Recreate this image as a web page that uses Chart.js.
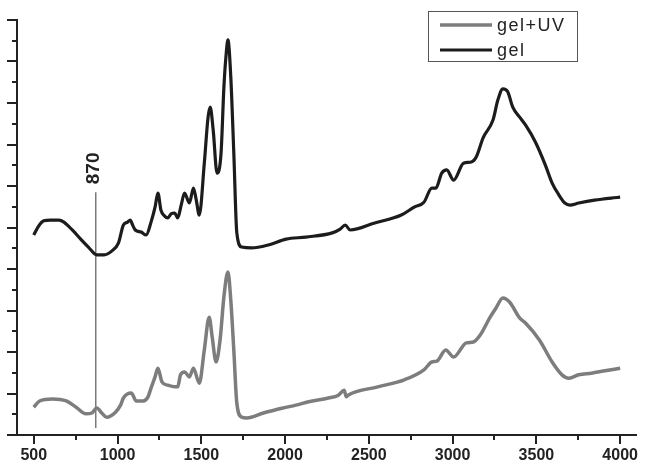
<!DOCTYPE html>
<html>
<head>
<meta charset="utf-8">
<script src="https://cdn.jsdelivr.net/npm/chart.js@4/dist/chart.umd.min.js"></script>
<style>
  html, body { margin: 0; padding: 0; background: #fff; }
  #wrap { width: 649px; height: 461px; }
</style>
</head>
<body>
<div id="wrap"><canvas id="chart"></canvas></div>
<script>
// IR spectra, gel vs gel+UV (arbitrary offset units)

const gelX = [500, 530, 560, 600, 650, 680, 730, 780, 830, 876, 920, 965, 1006, 1035, 1060, 1076, 1090, 1106, 1141, 1171,
  1200, 1224, 1241, 1259, 1280, 1300, 1320, 1341, 1359, 1380, 1400, 1429, 1453, 1470, 1488, 1518, 1540, 1553, 1571, 1594,
  1618, 1635, 1648, 1659, 1676, 1694, 1712, 1741, 1800, 1900, 2006, 2124, 2282, 2329, 2359, 2388, 2535, 2694, 2771, 2829,
  2876, 2900, 2935, 2965, 3006, 3065, 3112, 3141, 3182, 3241, 3270, 3300, 3329, 3359, 3400, 3435, 3494, 3553, 3594, 3635,
  3670, 3700, 3753, 3847, 3947, 4000];
const gelY = [4.82, 5.04, 5.16, 5.18, 5.18, 5.13, 4.94, 4.72, 4.51, 4.34, 4.34, 4.43, 4.63, 5.06, 5.13, 5.18, 5.06, 4.94, 4.89, 4.82,
  5.13, 5.49, 5.83, 5.42, 5.28, 5.23, 5.33, 5.35, 5.23, 5.54, 5.83, 5.59, 5.95, 5.66, 5.30, 6.55, 7.64, 7.90, 7.35, 6.31,
  6.80, 8.39, 9.16, 9.52, 8.63, 6.80, 4.87, 4.53, 4.51, 4.58, 4.72, 4.77, 4.87, 4.96, 5.06, 4.94, 5.11, 5.30, 5.49, 5.61,
  5.95, 5.95, 6.31, 6.39, 6.14, 6.55, 6.58, 6.70, 7.16, 7.59, 8.07, 8.34, 8.27, 7.90, 7.66, 7.47, 7.06, 6.51, 6.07, 5.78,
  5.59, 5.54, 5.59, 5.66, 5.71, 5.73];

const uvX = [500, 535, 612, 694, 753, 812, 847, 876, 906, 935, 988, 1018, 1035, 1082, 1112, 1153, 1182, 1200, 1224, 1241,
  1265, 1300, 1341, 1359, 1376, 1400, 1429, 1453, 1488, 1518, 1547, 1565, 1588, 1612, 1635, 1659, 1676, 1694, 1712, 1741,
  1771, 1871, 1988, 2065, 2141, 2259, 2318, 2353, 2365, 2376, 2553, 2712, 2829, 2876, 2906, 2959, 3006, 3082, 3124, 3165,
  3224, 3259, 3300, 3341, 3400, 3435, 3518, 3594, 3653, 3694, 3753, 3829, 3900, 4000];
const uvY = [0.67, 0.82, 0.87, 0.82, 0.67, 0.51, 0.53, 0.65, 0.53, 0.43, 0.55, 0.72, 0.89, 1.01, 0.82, 0.82, 0.92, 1.13, 1.40, 1.61,
  1.28, 1.20, 1.16, 1.16, 1.45, 1.52, 1.40, 1.61, 1.25, 2.05, 2.84, 2.36, 1.76, 2.29, 3.33, 3.93, 3.25, 2.05, 0.77, 0.43,
  0.41, 0.53, 0.65, 0.72, 0.80, 0.89, 0.96, 1.08, 0.92, 0.96, 1.16, 1.33, 1.57, 1.76, 1.78, 2.05, 1.88, 2.22, 2.24, 2.41,
  2.84, 3.06, 3.30, 3.20, 2.82, 2.70, 2.29, 1.76, 1.45, 1.37, 1.45, 1.49, 1.54, 1.61];

const seriesLabels = ["gel+UV", "gel"];

const xLabelTicks = [500, 1000, 1500, 2000, 2500, 3000, 3500, 4000];
const xMinorTicks = [750, 1250, 1750, 2250, 2750, 3250, 3750];
const yMajorTicks = [0, 1, 2, 3, 4, 5, 6, 7, 8, 9, 10];
const yMinorTicks = [0.5, 1.5, 2.5, 3.5, 4.5, 5.5, 6.5, 7.5, 8.5, 9.5];

const markerX = [870, 870];
const markerY = [5.85, 0.17];
const markerLabel = "870";

function toPoints(xs, ys) {
  return xs.map(function(x, i) { return { x: x, y: ys[i] }; });
}

// --- tick marks (long major / short minor, pointing outward) ---
const tickPlugin = {
  id: "axisTicks",
  afterDraw: function(chart) {
    var ctx = chart.ctx, xs = chart.scales.x, ys = chart.scales.y;
    var bottom = chart.chartArea.bottom, left = chart.chartArea.left;
    ctx.save();
    ctx.strokeStyle = "#222";
    ctx.lineWidth = 2;
    ctx.beginPath();
    xLabelTicks.forEach(function(v) {
      var p = Math.round(xs.getPixelForValue(v));
      ctx.moveTo(p, bottom); ctx.lineTo(p, bottom + 9);
    });
    xMinorTicks.forEach(function(v) {
      var p = Math.round(xs.getPixelForValue(v));
      ctx.moveTo(p, bottom); ctx.lineTo(p, bottom + 5);
    });
    yMajorTicks.forEach(function(v) {
      var p = Math.round(ys.getPixelForValue(v));
      ctx.moveTo(left, p); ctx.lineTo(left - 10, p);
    });
    yMinorTicks.forEach(function(v) {
      var p = Math.round(ys.getPixelForValue(v));
      ctx.moveTo(left, p); ctx.lineTo(left - 5, p);
    });
    ctx.stroke();

    // 870 label, rotated
    var mx = xs.getPixelForValue(markerX[0]);
    var my = ys.getPixelForValue(markerY[0]);
    ctx.translate(mx - 2, my - 8);
    ctx.rotate(-Math.PI / 2);
    ctx.fillStyle = "#222";
    ctx.font = "bold 19px 'Liberation Sans', Arial, sans-serif";
    ctx.textAlign = "left";
    ctx.textBaseline = "middle";
    ctx.fillText(markerLabel, 0, 0);
    ctx.restore();
  }
};

// --- boxed legend, top right ---
const legendPlugin = {
  id: "boxLegend",
  afterDraw: function(chart) {
    var ctx = chart.ctx;
    var bx = 428, by = 11, bw = 149, bh = 50;
    ctx.save();
    ctx.strokeStyle = "#555";
    ctx.lineWidth = 1;
    ctx.strokeRect(bx + 0.5, by + 0.5, bw, bh);
    ctx.font = "18px 'Liberation Sans', Arial, sans-serif";
    ctx.letterSpacing = "1.5px";
    ctx.textBaseline = "middle";
    ctx.fillStyle = "#222";
    for (var i = 0; i < seriesLabels.length; i++) {
      var ds = chart.data.datasets[i];
      var yy = by + 14 + i * 25;
      ctx.strokeStyle = ds.borderColor;
      ctx.lineWidth = ds.borderWidth;
      ctx.beginPath();
      ctx.moveTo(bx + 12, yy);
      ctx.lineTo(bx + 64, yy);
      ctx.stroke();
      ctx.fillText(seriesLabels[i], bx + 69, yy + 1);
    }
    ctx.restore();
  }
};

new Chart(document.getElementById("chart"), {
  type: "line",
  data: {
    datasets: [
      {
        label: seriesLabels[0],
        data: toPoints(uvX, uvY),
        borderColor: "#7d7d7d",
        borderWidth: 3.5,
        pointRadius: 0,
        cubicInterpolationMode: "monotone",
        fill: false
      },
      {
        label: seriesLabels[1],
        data: toPoints(gelX, gelY),
        borderColor: "#1c1c1c",
        borderWidth: 3.2,
        pointRadius: 0,
        cubicInterpolationMode: "monotone",
        fill: false
      },
      {
        label: "marker",
        data: toPoints(markerX, markerY),
        borderColor: "#7a7a7a",
        borderWidth: 1.5,
        pointRadius: 0,
        fill: false
      }
    ]
  },
  options: {
    responsive: true,
    maintainAspectRatio: false,
    animation: false,
    layout: { padding: { left: 0, top: 20, right: 2, bottom: 0 } },
    plugins: {
      legend: { display: false },
      tooltip: { enabled: false }
    },
    scales: {
      x: {
        type: "linear",
        min: 400,
        max: 4100,
        afterBuildTicks: function(s) {
          s.ticks = xLabelTicks.map(function(v) { return { value: v }; });
        },
        afterFit: function(s) { s.height = 26; },
        grid: { display: false, drawTicks: false },
        border: { display: true, color: "#222", width: 2 },
        ticks: {
          autoSkip: false,
          maxRotation: 0,
          padding: 11,
          color: "#222",
          font: { family: "'Liberation Sans', Arial, sans-serif", size: 16, weight: "bold" },
          callback: function(v) { return String(v); }
        }
      },
      y: {
        min: 0,
        max: 10,
        afterFit: function(s) { s.width = 17; },
        grid: { display: false, drawTicks: false },
        border: { display: true, color: "#222", width: 2 },
        ticks: { display: false }
      }
    }
  },
  plugins: [tickPlugin, legendPlugin]
});
</script>
</body>
</html>
